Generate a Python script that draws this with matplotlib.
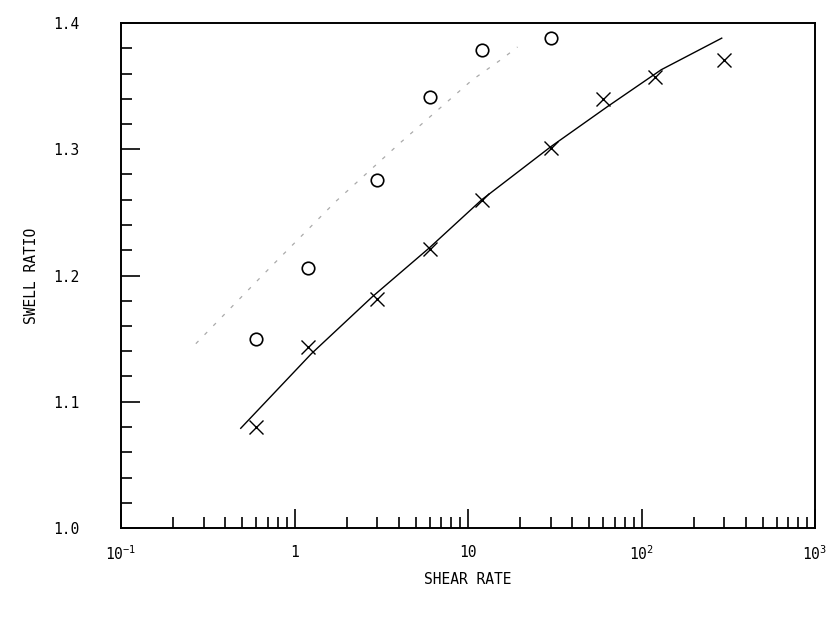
import matplotlib
matplotlib.use('Agg')
import matplotlib.pyplot as plt
from matplotlib.ticker import FixedLocator, FixedFormatter, NullFormatter

# ---- data ----
shear_circle = [0.6, 1.2, 3, 6, 12, 30]
swell_circle = [1.150, 1.206, 1.276, 1.341, 1.379, 1.388]

shear_cross = [0.6, 1.2, 3, 6, 12, 30, 60, 120, 300]
swell_cross = [1.080, 1.143, 1.181, 1.221, 1.260, 1.301, 1.340, 1.357, 1.371]

fit_cross_x = [0.49, 1.25, 2.8, 6, 12, 30, 64, 130, 290]
fit_cross_y = [1.079, 1.138, 1.183, 1.222, 1.260, 1.302, 1.334, 1.363, 1.388]

fit_circle_x = [0.27, 0.72, 1.74, 4.06, 5.9, 10.6, 15.5, 19.3]
fit_circle_y = [1.146, 1.206, 1.259, 1.305, 1.3245, 1.355, 1.371, 1.381]

xtick_vals = [0.1, 1, 10, 100, 1000]
xtick_labels = ['10$^{-1}$', '1', '10', '10$^{2}$', '10$^{3}$']
ytick_vals = [1.0, 1.1, 1.2, 1.3, 1.4]
ytick_labels = ['1.0', '1.1', '1.2', '1.3', '1.4']

plt.rcParams['font.family'] = ['DejaVu Sans Mono']
plt.rcParams['mathtext.fontset'] = 'custom'
plt.rcParams['mathtext.rm'] = 'DejaVu Sans Mono'
plt.rcParams['mathtext.default'] = 'rm'

fig = plt.figure(figsize=(8.36, 6.2), dpi=100)
ax = fig.add_axes([121/836, 1 - 528/620, (815-121)/836, (528-23)/620])

ax.plot(fit_circle_x, fit_circle_y, color='#aaaaaa', lw=0.9,
        linestyle=(0, (3, 7)))
ax.plot(fit_cross_x, fit_cross_y, color='black', lw=1.0)
ax.plot(shear_circle, swell_circle, linestyle='none', marker='o',
        markersize=9, markerfacecolor='none', markeredgecolor='black',
        markeredgewidth=1.2)
ax.plot(shear_cross, swell_cross, linestyle='none', marker='x',
        markersize=10, markeredgecolor='black', markeredgewidth=1.0)

ax.set_xscale('log')
ax.set_xlim(0.1, 1000)
ax.set_ylim(1.0, 1.4)

ax.xaxis.set_major_locator(FixedLocator(xtick_vals))
ax.xaxis.set_major_formatter(FixedFormatter(xtick_labels))
minor_x = [m * 10.0**e for e in range(-1, 3) for m in range(2, 10)]
ax.xaxis.set_minor_locator(FixedLocator(minor_x))
ax.xaxis.set_minor_formatter(NullFormatter())

ax.yaxis.set_major_locator(FixedLocator(ytick_vals))
ax.yaxis.set_major_formatter(FixedFormatter(ytick_labels))
minor_y = [1.0 + 0.02 * i for i in range(1, 20) if i % 5 != 0]
ax.yaxis.set_minor_locator(FixedLocator(minor_y))

ax.tick_params(which='both', direction='in', top=False, right=False,
               width=1.2, labelsize=10.5)
ax.tick_params(which='major', length=14)
ax.tick_params(which='minor', length=8)
ax.tick_params(axis='x', which='major', pad=12)
ax.tick_params(axis='y', which='major', pad=30)

for s in ax.spines.values():
    s.set_linewidth(1.4)

ax.set_xlabel('SHEAR RATE', fontsize=10.5, labelpad=6)
ax.set_ylabel('SWELL RATIO', fontsize=10.5, labelpad=10)

fig.savefig('out.png', dpi=100)
